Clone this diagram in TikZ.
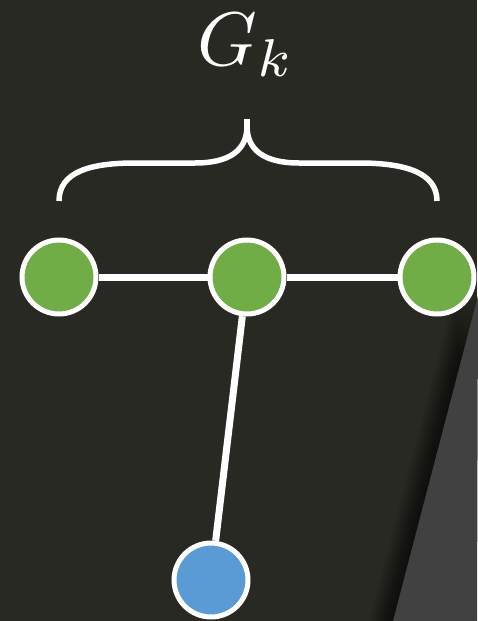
\documentclass[tikz,border=0pt]{standalone}
\usepackage{graphicx}
\usetikzlibrary{calc}
\definecolor{bgc}{HTML}{282923}
\definecolor{panel}{HTML}{414141}
\definecolor{gnode}{HTML}{70AD47}
\definecolor{bnode}{HTML}{5B9BD5}
\tikzset{
  vtx/.style={circle,draw=white,line width=5pt,minimum size=74pt,inner sep=0pt},
  gvtx/.style={vtx,fill=gnode},
  bvtx/.style={vtx,fill=bnode},
  edgeline/.style={white,line width=7pt},
  bracestyle/.style={white,line width=5.5pt}
}
\begin{document}
\begin{tikzpicture}[x=1pt,y=-1pt]
\fill[bgc] (0,0) rectangle (477,621);
\useasboundingbox (0,0) rectangle (477,621);
% shadow of panel
\foreach \i in {1,...,14}{
  \fill[black,opacity=0.05] ($(478,296)+(-\i*1.7,0)$) -- ($(393,621)+(-\i*1.7,0)$) -- (477,621) -- cycle;
}
\fill[panel] (478,296) -- (393,621) -- (477,621) -- cycle;
% label
\node[text=white,inner sep=0pt,anchor=base] (lbl) at (246,65) {\scalebox{7.6}{$G_k$}};
% brace
\coordinate (bl) at (59,201);
\coordinate (br) at (437,201);
\coordinate (bt) at (247,126);
\draw[bracestyle,line cap=butt] (bl) .. controls (59,172) and (90,163) .. (135,163)
  -- (195,163) .. controls (230,163) and (247,150) .. (bt)
  .. controls (247,150) and (264,163) .. (299,163)
  -- (359,163) .. controls (404,163) and (437,172) .. (br);
\draw[bracestyle] (bt) -- (247,119);
% nodes
\node[gvtx] (a) at (59,277) {};
\node[gvtx] (b) at (247,277) {};
\node[gvtx] (c) at (437,277) {};
\node[bvtx] (d) at (211,580) {};
\draw[edgeline] (a) -- (b);
\draw[edgeline] (b) -- (c);
\draw[edgeline] (b) -- (d);
\end{tikzpicture}
\end{document}
